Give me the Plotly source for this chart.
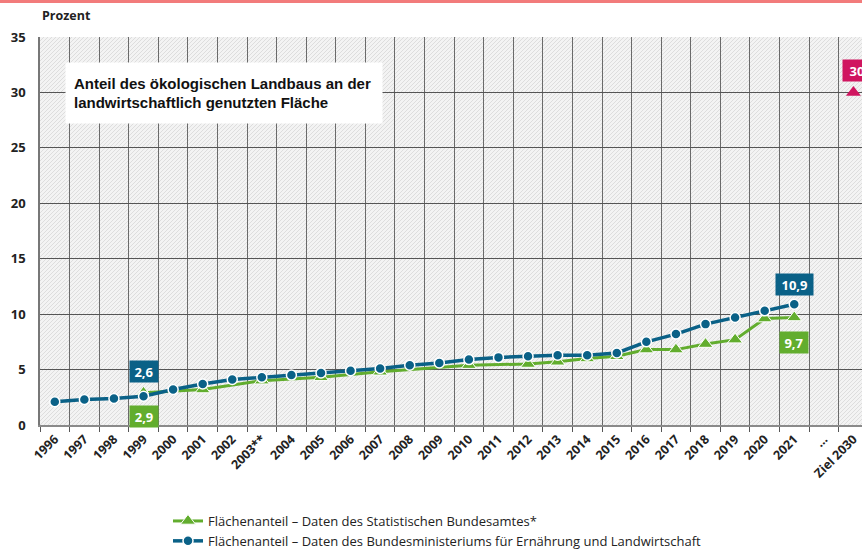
import base64
import plotly.graph_objects as go

categories = ["1996", "1997", "1998", "1999", "2000", "2001", "2002", "2003**", "2004",
              "2005", "2006", "2007", "2008", "2009", "2010", "2011", "2012", "2013",
              "2014", "2015", "2016", "2017", "2018", "2019", "2020", "2021", "...", "Ziel 2030"]

bmel_values = [2.1, 2.3, 2.4, 2.6, 3.2, 3.7, 4.1, 4.3, 4.5, 4.7, 4.9, 5.1, 5.4, 5.6,
               5.9, 6.1, 6.2, 6.3, 6.3, 6.5, 7.5, 8.2, 9.1, 9.7, 10.3, 10.9, None, None]

destatis_values = [None, None, None, 2.9, None, 3.2, None, 4.0, None, 4.3, None, 4.8, None, None,
                   5.4, None, 5.5, 5.7, 6.0, 6.2, 6.8, 6.8, 7.3, 7.7, 9.6, 9.7, None, None]

target_category = ["Ziel 2030"]
target_value = [30]

name_destatis = "Flächenanteil – Daten des Statistischen Bundesamtes*"
name_bmel = "Flächenanteil – Daten des Bundesministeriums für Ernährung und Landwirtschaft"

BLUE = "#0a6187"
GREEN = "#62ad2e"
PINK = "#d0155f"
FONT = "Open Sans"

# hatched background as svg image
W, H = 822, 388
lines = []
for k in range(-H, W + H, 4):
    lines.append(f'<line x1="{k}" y1="{H}" x2="{k + H}" y2="0"/>')
svg = (f'<svg xmlns="http://www.w3.org/2000/svg" width="{W}" height="{H}" viewBox="0 0 {W} {H}" preserveAspectRatio="none">'
       f'<rect width="{W}" height="{H}" fill="#f3f3f3"/>'
       f'<g stroke="#dddddd" stroke-width="1">' + "".join(lines) + '</g></svg>')
src = "data:image/svg+xml;base64," + base64.b64encode(svg.encode()).decode()

fig = go.Figure()

fig.add_trace(go.Scatter(
    x=categories, y=destatis_values, name=name_destatis, mode="lines+markers",
    connectgaps=True,
    line=dict(color=GREEN, width=3),
    marker=dict(symbol="triangle-up", size=13, color=GREEN, line=dict(color="white", width=1)),
))
fig.add_trace(go.Scatter(
    x=categories, y=bmel_values, name=name_bmel, mode="lines+markers",
    line=dict(color=BLUE, width=3.5),
    marker=dict(symbol="circle", size=10, color=BLUE, line=dict(color="white", width=1.5)),
))
fig.add_trace(go.Scatter(
    x=target_category, y=target_value, mode="markers", showlegend=False,
    marker=dict(symbol="triangle-up", size=13, color=PINK),
    cliponaxis=False,
))

def label(cat, y, text, color, w, xshift=0):
    fig.add_annotation(x=categories.index(cat), y=y, text=f"<b>{text}</b>", showarrow=False,
                       bgcolor=color, font=dict(family=FONT, size=13, color="white"),
                       width=w, height=15, borderpad=3, xshift=xshift)

label("1999", 4.8, "2,6", BLUE, 22)
label("1999", 0.75, "2,9", GREEN, 22)
label("2021", 12.65, "10,9", BLUE, 31)
label("2021", 7.4, "9,7", GREEN, 22)
label("Ziel 2030", 32.0, "30", PINK, 22, xshift=4)

# title box
fig.add_annotation(
    xref="paper", yref="paper", x=(65 - 40) / W, y=1 - (62 - 37) / H, xanchor="left", yanchor="top",
    text="<b>Anteil des ökologischen Landbaus an der<br>landwirtschaftlich genutzten Fläche</b>",
    showarrow=False, align="left", bgcolor="white", borderpad=8, width=300, height=44,
    font=dict(family="Liberation Sans, Arial", size=15, color="#111"),
)
fig.add_annotation(
    xref="paper", yref="paper", x=0, y=1 + (37 - 16) / H, xanchor="left", yanchor="middle",
    text="<b>Prozent</b>", showarrow=False, font=dict(family=FONT, size=12.5, color="#222"),
)

fig.add_shape(type="rect", xref="paper", yref="paper", x0=-0.1, x1=1.1,
              y0=1 + 34 / H, y1=1 + 40 / H, fillcolor="#f27b7b", line=dict(width=0), layer="above")

fig.add_layout_image(dict(source=src, xref="paper", yref="paper", x=0, y=1, sizex=1, sizey=1,
                          xanchor="left", yanchor="top", sizing="stretch", layer="below"))

fig.update_layout(
    width=862, height=552,
    margin=dict(l=40, r=0, t=37, b=127, autoexpand=False),
    paper_bgcolor="white", plot_bgcolor="rgba(0,0,0,0)",
    font=dict(family=FONT, color="#222"),
    legend=dict(x=(168 - 40) / W, y=-(506 - 425) / H, xanchor="left", yanchor="top",
                bgcolor="rgba(0,0,0,0)", font=dict(family=FONT, size=13, color="#222"),
                itemwidth=30, tracegroupgap=0),
    xaxis=dict(
        type="category", categoryorder="array", categoryarray=categories,
        range=[-0.5, 27.29], tickson="boundaries", showgrid=True,
        gridcolor="#6a6a6a", gridwidth=1.2, ticks="outside", ticklen=5, tickcolor="#555",
        tickangle=-45, showline=True, linecolor="#8a8a8a", linewidth=2, automargin=False,
        tickfont=dict(family=FONT, size=12.5, color="#222", weight="bold"),
    ),
    yaxis=dict(
        range=[0, 35], dtick=5, showgrid=True, gridcolor="#555", gridwidth=1.2,
        zeroline=False, showline=True, linecolor="#777", linewidth=1.5, automargin=False,
        ticks="outside", ticklen=10, tickcolor="rgba(0,0,0,0)",
        tickfont=dict(family=FONT, size=13, color="#222", weight="bold"),
    ),
)

fig.write_html("out.html", config={"displayModeBar": False},
               post_script="document.body.style.margin='0';")
